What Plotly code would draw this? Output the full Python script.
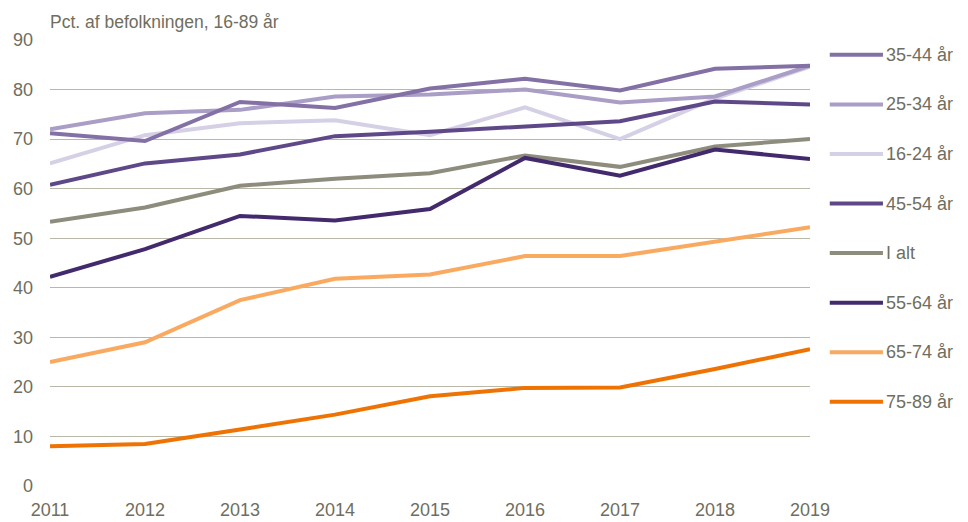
import plotly.graph_objects as go

years = [2011, 2012, 2013, 2014, 2015, 2016, 2017, 2018, 2019]
y_ticks = [0, 10, 20, 30, 40, 50, 60, 70, 80, 90]

series_names = ["35-44 år", "25-34 år", "16-24 år", "45-54 år", "I alt", "55-64 år", "65-74 år", "75-89 år"]
v_35_44 = [71.2, 69.6, 77.5, 76.3, 80.2, 82.2, 79.8, 84.2, 84.8]
v_25_34 = [72.0, 75.2, 75.9, 78.6, 79.0, 80.0, 77.4, 78.6, 84.8]
v_16_24 = [65.1, 70.8, 73.2, 73.8, 70.8, 76.4, 70.0, 78.2, 84.6]
v_45_54 = [60.8, 65.1, 66.9, 70.6, 71.5, 72.6, 73.6, 77.6, 77.0]
v_i_alt = [53.3, 56.2, 60.6, 62.0, 63.1, 66.7, 64.4, 68.5, 70.0]
v_55_64 = [42.2, 47.8, 54.5, 53.6, 55.9, 66.2, 62.6, 67.9, 66.0]
v_65_74 = [25.0, 29.0, 37.5, 41.8, 42.7, 46.4, 46.4, 49.3, 52.2]
v_75_89 = [8.0, 8.5, 11.4, 14.4, 18.1, 19.8, 19.9, 23.6, 27.6]

values = [v_35_44, v_25_34, v_16_24, v_45_54, v_i_alt, v_55_64, v_65_74, v_75_89]
colors = ["#8370a5", "#aa9dc6", "#d5d0e6", "#5e4888", "#8d8c7d", "#432a6c", "#f9aa60", "#ef7303"]
draw_order = [2, 1, 0, 3, 4, 5, 6, 7]

FONT = "Liberation Sans, Arial, sans-serif"
TXT = "#6f6e60"
FS = 18

fig = go.Figure()
for i in draw_order:
    fig.add_trace(go.Scatter(x=years, y=values[i], mode="lines", name=series_names[i],
                             line=dict(color=colors[i], width=4), showlegend=False,
                             hoverinfo="x+y+name"))

# custom legend
for i, name in enumerate(series_names):
    ly = 87 - 10 * i
    fig.add_shape(type="line", xref="paper", yref="y", x0=1.026, x1=1.096, y0=ly, y1=ly,
                  line=dict(color=colors[i], width=4))
    fig.add_annotation(xref="paper", yref="y", x=1.097, y=ly, text=name, showarrow=False,
                       xanchor="left", yanchor="middle", font=dict(family=FONT, size=FS, color=TXT))

fig.add_annotation(xref="paper", yref="paper", x=0.0, y=1.0, yshift=6, xshift=-2,
                   text="Pct. af befolkningen, 16-89 år",
                   showarrow=False, xanchor="left", yanchor="bottom",
                   font=dict(family=FONT, size=17.5, color=TXT))

fig.update_layout(
    width=960, height=514,
    margin=dict(l=42, r=158, t=32, b=36, autoexpand=False),
    paper_bgcolor="white", plot_bgcolor="white",
    font=dict(family=FONT, size=FS, color=TXT),
    xaxis=dict(range=[2011, 2019], tickvals=years, ticktext=[str(y) for y in years],
               showgrid=False, zeroline=False, showline=False, ticks="", automargin=False,
               ticklabelstandoff=11,
               tickfont=dict(family=FONT, size=FS, color=TXT)),
    yaxis=dict(range=[0, 90], tickvals=y_ticks, showgrid=True, gridcolor="#b9b8a8", gridwidth=1,
               zeroline=False, showline=False, ticks="", ticklabelstandoff=16, automargin=False,
               tickfont=dict(family=FONT, size=FS, color=TXT)),
)

fig.write_html("out.html")
